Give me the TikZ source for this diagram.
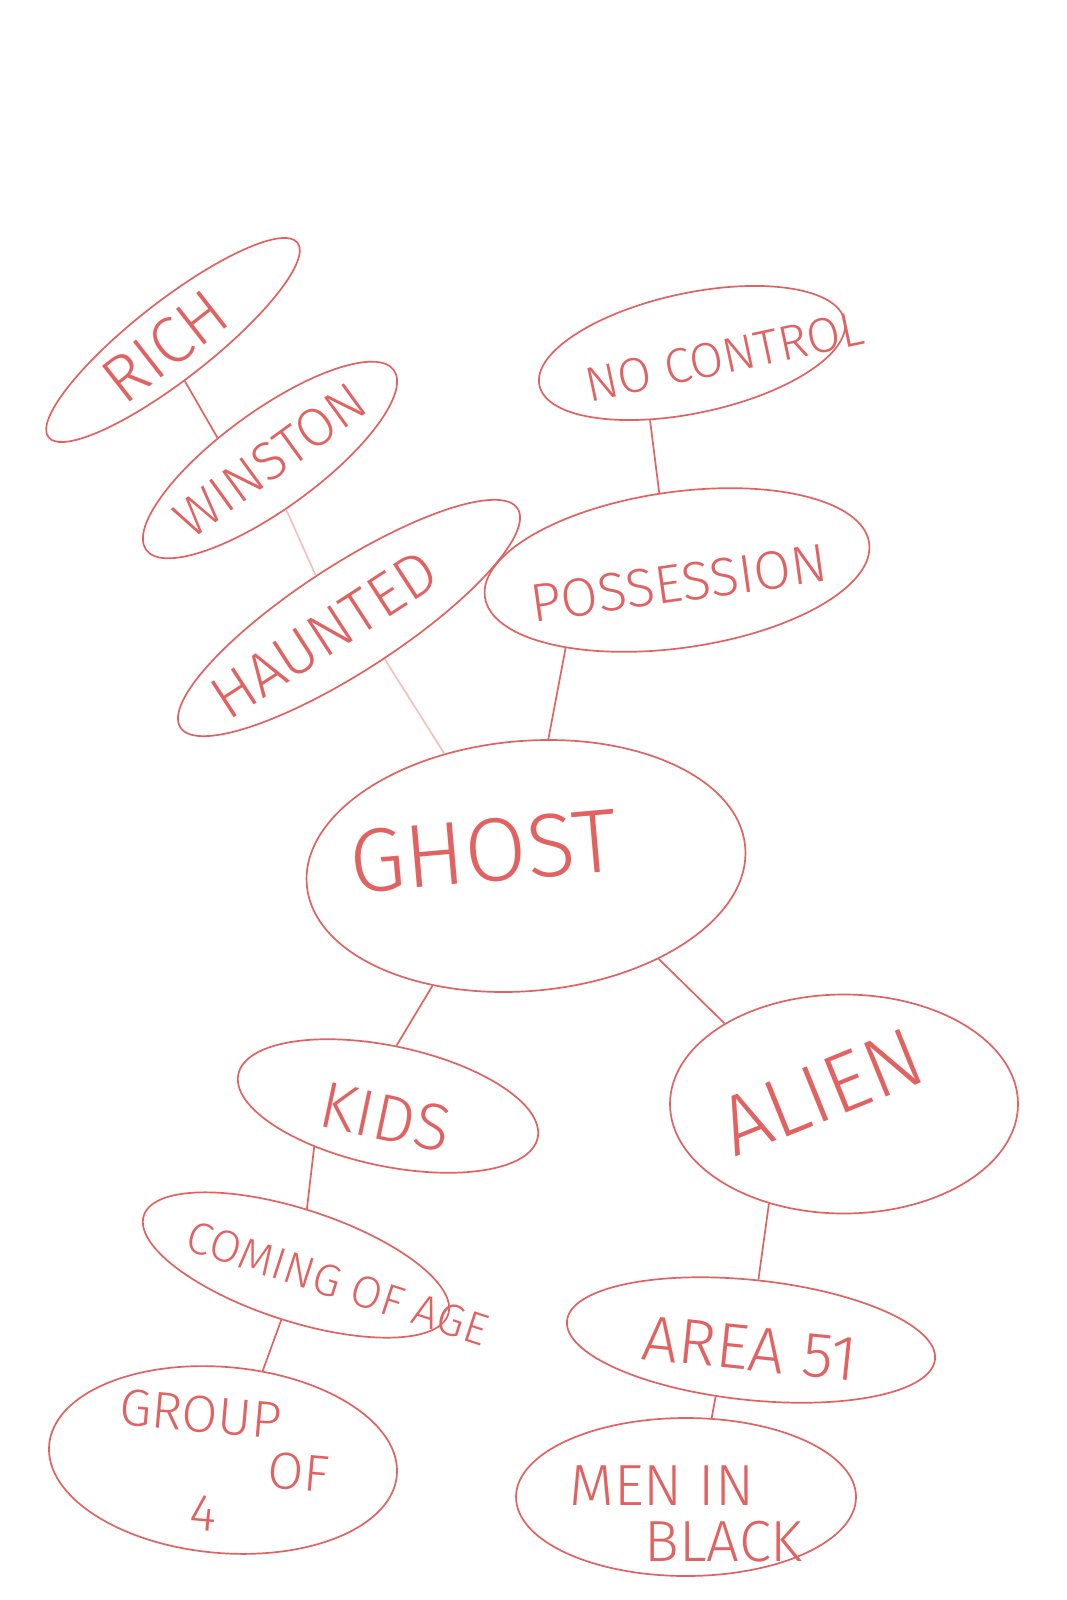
\documentclass[tikz,border=0pt]{standalone}
\usepackage{fontspec}
\newfontfamily\ink{Fira Sans Light}
\usetikzlibrary{shapes.geometric}
\definecolor{pen}{RGB}{226,98,98}
\newcommand\inksize[1]{\fontsize{#1}{#1}\selectfont}
\newcommand\inkword[2][0pt]{\raisebox{\dimexpr #1-.35em\relax}[0pt][0pt]{\makebox[0pt]{#2}}}

\begin{document}
\begin{tikzpicture}[x=1pt, y=1pt,
  bubble/.style={draw=pen, text=pen, line width=1.7pt, ellipse, inner sep=0pt},
  link/.style={draw=pen, line width=1.7pt},
  faint/.style={draw=pen!40}]
\useasboundingbox (0,0) rectangle (1067,-1600);

\node[bubble, minimum width=316pt, minimum height=78pt, rotate=38, font=\ink\inksize{66}] (rich) at (173,-340) {\inkword{RICH\hspace*{20pt}}};
\node[bubble, minimum width=306pt, minimum height=98pt, rotate=36, font=\ink\inksize{54}] (winston) at (270,-460) {\inkword{WINSTON}};
\node[bubble, minimum width=402pt, minimum height=106pt, rotate=33, font=\ink\inksize{61}] (haunted) at (349,-618) {\inkword{HAUNTED\hspace*{60pt}}};
\node[bubble, minimum width=312pt, minimum height=120pt, rotate=12, font=\ink\inksize{49}] (nocontrol) at (692,-353) {\inkword[-10pt]{\hspace*{62pt}NO CONTROL}};
\node[bubble, minimum width=388pt, minimum height=156pt, rotate=8, font=\ink\inksize{54}] (possession) at (677,-570) {\inkword[-13pt]{POSSESSION}};
\node[bubble, minimum width=440pt, minimum height=250pt, rotate=5, font=\ink\inksize{90}] (ghost) at (526,-866) {\inkword[19pt]{GHOST\hspace*{82pt}}};
\node[bubble, minimum width=306pt, minimum height=120pt, rotate=-12, font=\ink\inksize{66}] (kids) at (388,-1106) {\inkword[-11pt]{KIDS}};
\node[bubble, minimum width=348pt, minimum height=219pt, font=\ink\inksize{84}] (alien) at (844,-1104) {\inkword[13pt]{\rotatebox[origin=c]{22}{ALIEN}\hspace*{46pt}}};
\node[bubble, minimum width=320pt, minimum height=112pt, rotate=-18, font=\ink\inksize{45}] (coming) at (296,-1265) {\inkword[-4pt]{\hspace*{90pt}COMING OF AGE}};
\node[bubble, minimum width=349pt, minimum height=186pt, rotate=-5, font=\ink\inksize{52}] (group) at (223,-1460) {\inkword{\def\arraystretch{.88}\begin{tabular}{@{}l@{}}GROUP\\\hspace*{153pt}OF\\\hspace*{79pt}4\end{tabular}}};
\node[bubble, minimum width=370pt, minimum height=120pt, rotate=-6, font=\ink\inksize{64}] (area) at (751,-1340) {\inkword[-8pt]{AREA 51}};
\node[bubble, minimum width=340pt, minimum height=158pt, font=\ink\inksize{58}] (men) at (686,-1497) {\inkword[-10pt]{\def\arraystretch{.9}\begin{tabular}{@{}l@{}}MEN IN\\\hspace*{75pt}BLACK\end{tabular}}};

\draw[link] (rich.-112) -- (winston.121);
\draw[link, faint] (winston.-108) -- (haunted.95);
\draw[link, faint] (haunted.-82) -- (ghost.121);
\draw[link] (nocontrol.226) -- (possession.95);
\draw[link] (possession.207) -- (ghost.75);
\draw[link] (ghost.227) -- (kids.94);
\draw[link] (ghost.-40) -- (alien.146);
\draw[link] (kids.221) -- (coming.97);
\draw[link] (coming.273) -- (group.71);
\draw[link] (alien.233) -- (area.89);
\draw[link] (area.244) -- (men.72);
\end{tikzpicture}
\end{document}
